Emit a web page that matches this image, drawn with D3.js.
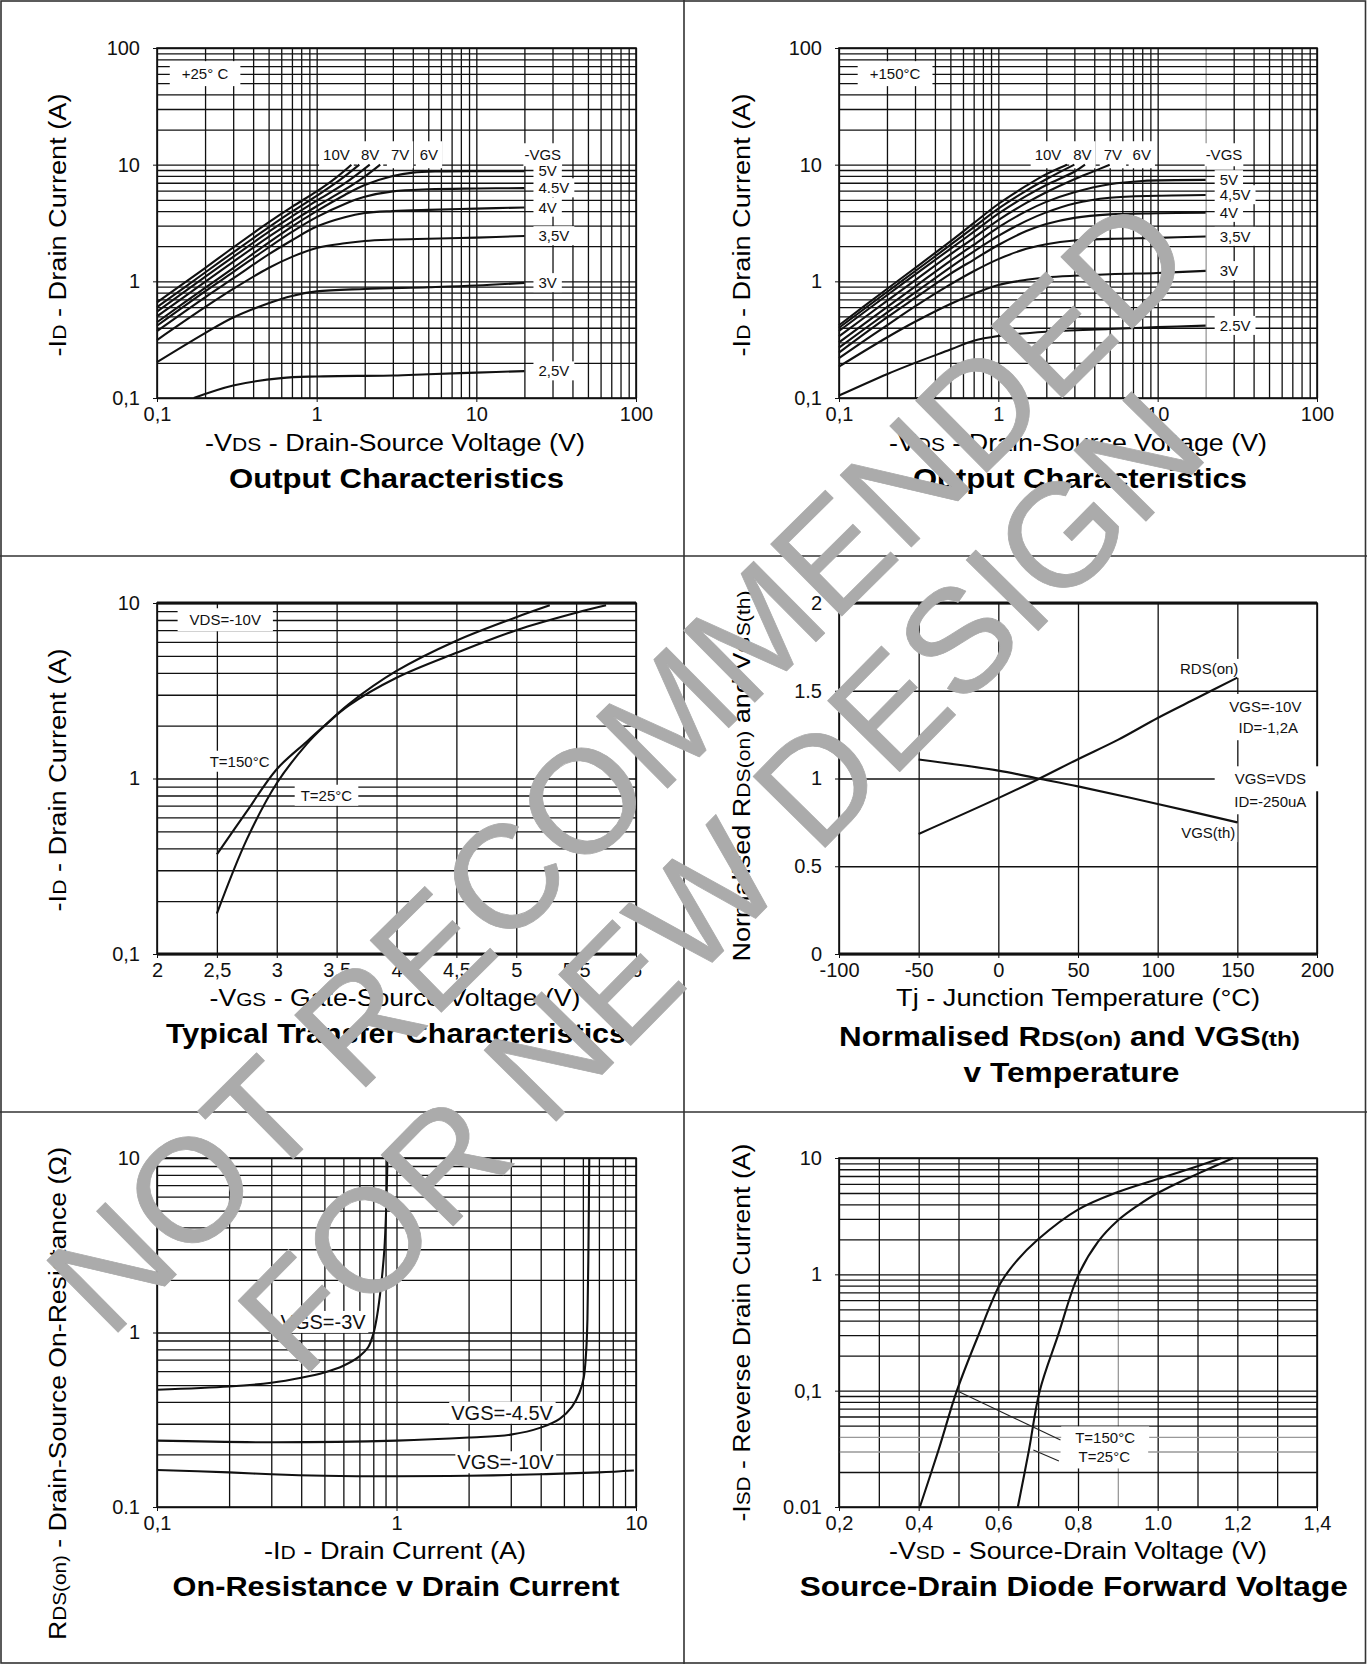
<!DOCTYPE html>
<html>
<head>
<meta charset="utf-8">
<script src="https://cdn.jsdelivr.net/npm/d3@7"></script>
<style>
  body { margin: 0; background: #fff; }
  text { font-family: "Liberation Sans", Arial, sans-serif; fill: #111; }
</style>
</head>
<body>
<script>
// ---------- data ----------

// output characteristics, [-VDS (V), -ID (A)], one array per -VGS
const outVgs = ["10V", "8V", "7V", "6V", "5V", "4.5V", "4V", "3.5V", "3V", "2.5V"];
const out25 = [
  [[0.1,0.66],[0.2,1.3],[0.3,1.95],[0.5,3.2],[0.7,4.35],[1,5.9],[1.3,7.6],[1.65,10]],
  [[0.1,0.6],[0.2,1.19],[0.3,1.77],[0.5,2.9],[0.7,3.95],[1,5.4],[1.4,7.4],[1.85,10]],
  [[0.1,0.55],[0.2,1.09],[0.3,1.62],[0.5,2.65],[0.7,3.6],[1,4.9],[1.5,6.9],[2.15,10]],
  [[0.1,0.5],[0.2,0.99],[0.3,1.47],[0.5,2.4],[0.7,3.25],[1,4.4],[1.5,6.1],[2,7.9],[2.5,10]],
  [[0.1,0.446],[0.2,0.88],[0.3,1.3],[0.5,2.15],[0.7,2.95],[1,4.0],[1.5,5.5],[2,6.7],[3,8.0],[4,8.55],[6,8.75],[10,8.8],[20,8.8]],
  [[0.1,0.416],[0.2,0.82],[0.3,1.2],[0.5,1.95],[0.7,2.65],[1,3.55],[1.5,4.6],[2,5.3],[3,5.9],[5,6.15],[10,6.25],[20,6.3]],
  [[0.1,0.375],[0.2,0.73],[0.3,1.06],[0.5,1.7],[0.7,2.25],[1,2.95],[1.5,3.55],[2,3.85],[3,4.0],[5,4.1],[10,4.2],[20,4.3]],
  [[0.1,0.314],[0.2,0.6],[0.3,0.86],[0.5,1.3],[0.7,1.62],[1,1.93],[1.5,2.12],[2,2.22],[3,2.28],[5,2.32],[10,2.37],[20,2.45]],
  [[0.1,0.203],[0.2,0.36],[0.3,0.49],[0.5,0.65],[0.7,0.75],[1,0.82],[2,0.86],[5,0.89],[10,0.92],[20,0.97]],
  [[0.17,0.1],[0.3,0.128],[0.6,0.148],[1,0.153],[3,0.156],[5,0.16],[10,0.165],[20,0.17]]
];
const out150 = [
  [[0.1,0.42],[0.2,0.86],[0.3,1.3],[0.5,2.2],[0.7,3.15],[1,4.6],[1.5,6.6],[2,8.3],[2.7,10]],
  [[0.1,0.4],[0.2,0.81],[0.3,1.22],[0.5,2.05],[0.7,2.9],[1,4.2],[1.5,6.0],[2,7.5],[3.0,10]],
  [[0.1,0.375],[0.2,0.76],[0.3,1.14],[0.5,1.9],[0.7,2.65],[1,3.8],[1.5,5.4],[2,6.7],[3,8.7],[3.5,10]],
  [[0.1,0.337],[0.2,0.68],[0.3,1.02],[0.5,1.7],[0.7,2.35],[1,3.35],[1.5,4.7],[2,5.8],[3,7.5],[4,8.8],[5,10]],
  [[0.1,0.3],[0.2,0.6],[0.3,0.9],[0.5,1.5],[0.7,2.05],[1,2.9],[1.5,4.0],[2,4.8],[3,5.8],[5,6.8],[8,7.25],[20,7.4]],
  [[0.1,0.27],[0.2,0.54],[0.3,0.8],[0.5,1.32],[0.7,1.8],[1,2.45],[1.5,3.3],[2,3.9],[3,4.65],[5,5.2],[10,5.42],[20,5.5]],
  [[0.1,0.245],[0.2,0.49],[0.3,0.72],[0.5,1.16],[0.7,1.53],[1,2.05],[1.5,2.7],[2,3.1],[3,3.5],[5,3.75],[10,3.83],[20,3.88]],
  [[0.1,0.22],[0.2,0.42],[0.3,0.61],[0.5,0.94],[0.7,1.22],[1,1.55],[1.5,1.9],[2,2.08],[3,2.24],[5,2.31],[10,2.36],[20,2.42]],
  [[0.1,0.186],[0.2,0.33],[0.3,0.45],[0.5,0.64],[0.7,0.78],[1,0.93],[1.5,1.03],[2,1.08],[5,1.15],[10,1.18],[20,1.23]],
  [[0.1,0.105],[0.2,0.16],[0.3,0.2],[0.5,0.26],[0.7,0.31],[1,0.34],[2,0.37],[5,0.39],[10,0.405],[20,0.417]]
];
const out25Right = ["5V", "4.5V", "4V", "3,5V", "3V", "2,5V"];
const out150Right = ["5V", "4,5V", "4V", "3,5V", "3V", "2.5V"];
const outTop = ["10V", "8V", "7V", "6V"];
const outTicks = [0.1, 1, 10, 100];
const outXLabels = ["0,1", "1", "10", "100"];
const outYLabels = ["0,1", "1", "10", "100"];

// typical transfer characteristics, [-VGS (V), -ID (A)]
const transfer150 = [[2.5,0.37],[2.75,0.65],[3,1.13],[3.25,1.62],[3.4,2.0],[3.6,2.6],[4,3.75],[4.5,5.2],[5,7.0],[5.5,8.8],[5.75,9.7]];
const transfer25 = [[2.5,0.17],[2.75,0.45],[3,0.94],[3.25,1.57],[3.4,2.0],[3.6,2.65],[4,4.1],[4.5,6.1],[5,8.3],[5.28,9.7]];
const transferX = [2, 2.5, 3, 3.5, 4, 4.5, 5, 5.5, 6];
const transferXLabels = ["2", "2,5", "3", "3,5", "4", "4,5", "5", "5,5", "6"];
const transferY = [0.1, 1, 10];
const transferYLabels = ["0,1", "1", "10"];

// normalised RDS(on) and VGS(th), [Tj (°C), ratio]
const tempRds = [[-50,0.684],[0,0.888],[25,0.996],[50,1.11],[75,1.22],[100,1.345],[125,1.46],[150,1.575]];
const tempVth = [[-50,1.108],[0,1.045],[25,1.0],[50,0.955],[100,0.855],[150,0.75]];
const tempX = [-100, -50, 0, 50, 100, 150, 200];
const tempY = [0, 0.5, 1, 1.5, 2];
const tempYLabels = ["0", "0.5", "1", "1.5", "2"];

// on-resistance, [-ID (A), RDS(on) (ohm)]
const ron3 = [[0.1,0.47],[0.2,0.49],[0.3,0.515],[0.4,0.55],[0.5,0.59],[0.6,0.645],[0.7,0.73],[0.76,0.82],[0.8,0.98],[0.83,1.25],[0.86,1.8],[0.89,3.0],[0.905,5],[0.917,10]];
const ron45 = [[0.1,0.24],[0.3,0.235],[1,0.24],[2,0.25],[3,0.26],[4,0.285],[4.8,0.32],[5.4,0.375],[5.8,0.45],[6.05,0.55],[6.2,0.8],[6.27,1.2],[6.33,3],[6.38,10]];
const ron10 = [[0.1,0.163],[0.2,0.158],[0.3,0.154],[0.5,0.151],[1,0.15],[2,0.151],[4,0.154],[7,0.158],[9.8,0.162]];
const ronX = [0.1, 1, 10];
const ronXLabels = ["0,1", "1", "10"];
const ronYLabels = ["0.1", "1", "10"];

// source-drain diode, [-VSD (V), -ISD (A)]
const diode150 = [[0.403,0.01],[0.45,0.031],[0.496,0.1],[0.55,0.3],[0.606,0.845],[0.644,1.28],[0.7,2.0],[0.8,3.6],[0.9,5.1],[1.0,6.6],[1.1,8.5],[1.16,10]];
const diode25 = [[0.649,0.01],[0.677,0.031],[0.704,0.1],[0.75,0.3],[0.8,0.97],[0.85,1.9],[0.9,2.9],[0.95,3.9],[1.0,5.0],[1.1,7.3],[1.19,10]];
const diodeX = [0.2, 0.4, 0.6, 0.8, 1.0, 1.2, 1.4];
const diodeXLabels = ["0,2", "0,4", "0,6", "0,8", "1.0", "1,2", "1,4"];
const diodeY = [0.01, 0.1, 1, 10];
const diodeYLabels = ["0.01", "0,1", "1", "10"];

// ---------- drawing ----------
const W = 1367, H = 1664;
const svg = d3.select("body").append("svg").attr("width", W).attr("height", H);

const COL = [[157, 636], [839, 1317]];
const ROW = [[48, 398], [603, 954], [1158, 1507]];

const line = (x, y) => d3.line()
  .x(d => x(d[0])).y(d => y(d[1]))
  .curve(d3.curveCatmullRom.alpha(0.5));

// white-backed label
function tag(g, px, py, str, o = {}) {
  const t = g.append("text")
    .attr("x", px).attr("y", py).attr("dy", "0.35em")
    .attr("text-anchor", o.anchor || "start")
    .style("font-size", (o.size || 15) + "px")
    .text(str);
  const b = t.node().getBBox();
  const px2 = o.padX == null ? 4 : o.padX, py2 = o.padY == null ? 2 : o.padY;
  g.insert("rect", () => t.node())
    .attr("x", b.x - px2).attr("y", b.y - py2)
    .attr("width", b.width + 2 * px2).attr("height", b.height + 2 * py2)
    .attr("fill", "#fff");
  return t;
}

// text with smaller subscript parts, stretched to a given length
function rich(parts, o) {
  const t = svg.append("text")
    .attr("text-anchor", "middle")
    .attr("transform", `translate(${o.x},${o.y})` + (o.rotate ? " rotate(-90)" : ""))
    .style("font-size", o.size + "px")
    .style("font-weight", o.bold ? "bold" : "normal")
    .style("fill", "#000")
    .attr("textLength", o.len)
    .attr("lengthAdjust", "spacingAndGlyphs");
  parts.forEach(p => {
    const s = t.append("tspan").text(p[0]);
    if (p[1]) s.style("font-size", "0.78em");
  });
}

function panel(p) {
  const g = svg.append("g");
  const [left, right] = COL[p.col], [top, bottom] = ROW[p.row];
  const x = (p.xLog ? d3.scaleLog() : d3.scaleLinear()).domain(p.xDomain).range([left, right]);
  const y = (p.yLog ? d3.scaleLog() : d3.scaleLinear()).domain(p.yDomain).range([bottom, top]);
  const gx = p.xLog ? x.ticks() : d3.range(p.xDomain[0], p.xDomain[1] + 1e-9, p.xStep);
  const gy = p.yLog ? y.ticks() : d3.range(p.yDomain[0], p.yDomain[1] + 1e-9, p.yStep);
  const faded = (list, d) => (list || []).some(v => Math.abs(v - d) < 1e-9);

  // grid
  g.append("g").attr("transform", `translate(0,${bottom})`)
    .call(d3.axisBottom(x).tickValues(gx).tickSize(-(bottom - top)).tickFormat(""))
    .call(a => a.select(".domain").remove())
    .selectAll("line").attr("stroke", d => faded(p.fadeX, d) ? "#999" : "#111").attr("stroke-width", 1.3);
  g.append("g").attr("transform", `translate(${left},0)`)
    .call(d3.axisLeft(y).tickValues(gy).tickSize(-(right - left)).tickFormat(""))
    .call(a => a.select(".domain").remove())
    .selectAll("line").attr("stroke", d => faded(p.fadeY, d) ? "#999" : "#111").attr("stroke-width", 1.3);

  // tick labels
  g.append("g").attr("transform", `translate(0,${bottom})`)
    .call(d3.axisBottom(x).tickValues(p.xTicks).tickFormat((d, i) => p.xLabels[i]).tickSize(4).tickPadding(5))
    .call(a => a.select(".domain").remove())
    .call(a => a.selectAll("line").attr("stroke", "#111"))
    .call(a => a.selectAll("text").style("font-size", "20px").attr("fill", "#111"));
  g.append("g").attr("transform", `translate(${left},0)`)
    .call(d3.axisLeft(y).tickValues(p.yTicks).tickFormat((d, i) => p.yLabels[i]).tickSize(4).tickPadding(13))
    .call(a => a.select(".domain").remove())
    .call(a => a.selectAll("line").attr("stroke", "#111"))
    .call(a => a.selectAll("text").style("font-size", "20px").attr("fill", "#111"));

  // frame
  g.append("rect").attr("x", left).attr("y", top)
    .attr("width", right - left).attr("height", bottom - top)
    .attr("fill", "none").attr("stroke", "#111").attr("stroke-width", 1.6);
  if (p.thick) {
    [top, bottom].forEach(yy => g.append("line")
      .attr("x1", left).attr("x2", right).attr("y1", yy).attr("y2", yy)
      .attr("stroke", "#111").attr("stroke-width", 3.2));
  }

  const lab = g.append("g");
  if (p.labels) p.labels(lab, x, y);

  const ln = line(x, y);
  g.append("g").selectAll("path").data(p.series).join("path")
    .attr("d", ln).attr("fill", "none").attr("stroke", "#111")
    .attr("stroke-width", 2.1).attr("stroke-linejoin", "round");

  if (p.after) p.after(g, x, y);
  return { x, y };
}

// output characteristics labels
function outLabels(series, rightLabels, temp) {
  return (g, x, y) => {
    tag(g, x(0.1) + (temp === "+25° C" ? 48 : 56), y(60), temp, { anchor: "middle", padX: 12, padY: 4 });
    outTop.forEach((s, i) => {
      const xv = temp === "+25° C" ? [1.33, 2.16, 3.33, 5.05][i] : [2.05, 3.37, 5.24, 7.95][i];
      tag(g, x(xv), y(12.1), s, { anchor: "middle", padX: 4, padY: 5 });
    });
    tag(g, x(20), y(12.1), "-VGS", { padX: 1, padY: 3 });
    rightLabels.forEach((s, i) => {
      const pts = series[i + 4];
      tag(g, x(24.5), y(pts[pts.length - 1][1]), s, { padX: 5, padY: 1 });
    });
  };
}

panel({
  col: 0, row: 0, xLog: true, yLog: true, xDomain: [0.1, 100], yDomain: [0.1, 100],
  xTicks: outTicks, xLabels: outXLabels, yTicks: outTicks, yLabels: outYLabels,
  series: out25, labels: outLabels(out25, out25Right, "+25° C")
});
panel({
  col: 1, row: 0, xLog: true, yLog: true, xDomain: [0.1, 100], yDomain: [0.1, 100],
  xTicks: outTicks, xLabels: outXLabels, yTicks: outTicks, yLabels: outYLabels,
  fadeX: [20],
  series: out150, labels: outLabels(out150, out150Right, "+150°C")
});

panel({
  col: 0, row: 1, xLog: false, yLog: true, xDomain: [2, 6], xStep: 0.5, yDomain: [0.1, 10],
  xTicks: transferX, xLabels: transferXLabels, yTicks: transferY, yLabels: transferYLabels,
  thick: true, series: [transfer150, transfer25],
  labels: (g, x, y) => {
    tag(g, x(2.57), y(8), "VDS=-10V", { anchor: "middle", padX: 12, padY: 3 });
    tag(g, x(2.44), y(1.25), "T=150°C", { padX: 4, padY: 2 });
    tag(g, x(3.2), y(0.8), "T=25°C", { padX: 6, padY: 2 });
  }
});

panel({
  col: 1, row: 1, xLog: false, yLog: false, xDomain: [-100, 200], xStep: 50, yDomain: [0, 2], yStep: 0.5,
  xTicks: tempX, xLabels: tempX.map(String), yTicks: tempY, yLabels: tempYLabels,
  thick: true, series: [tempRds, tempVth],
  labels: (g, x, y) => {
    tag(g, x(150) + 1, y(1.626), "RDS(on)", { anchor: "end", padX: 2, padY: 1 });
    tag(g, x(150) + 28, y(1.409), "VGS=-10V", { anchor: "middle", padX: 10, padY: 4 });
    tag(g, x(150) + 31, y(1.288), "ID=-1,2A", { anchor: "middle", padX: 8, padY: 4 });
    tag(g, x(150) + 33, y(0.997), "VGS=VDS", { anchor: "middle", padX: 20, padY: 4 });
    tag(g, x(150) + 33, y(0.866), "ID=-250uA", { anchor: "middle", padX: 5, padY: 4 });
    tag(g, x(150) - 2, y(0.69), "VGS(th)", { anchor: "end", padX: 2, padY: 1 });
  }
});

panel({
  col: 0, row: 2, xLog: true, yLog: true, xDomain: [0.1, 10], yDomain: [0.1, 10],
  xTicks: ronX, xLabels: ronXLabels, yTicks: ronX, yLabels: ronYLabels,
  series: [ron3, ron45, ron10],
  labels: (g, x, y) => {
    tag(g, x(0.494), y(1.15), "VGS=-3V", { anchor: "middle", size: 20, padX: 2, padY: 0 });
    tag(g, x(2.76), y(0.347), "VGS=-4.5V", { anchor: "middle", size: 20, padX: 2, padY: 0 });
    tag(g, x(2.85), y(0.152) - 13, "VGS=-10V", { anchor: "middle", size: 20, padX: 2, padY: 0 });
  }
});

panel({
  col: 1, row: 2, xLog: false, yLog: true, xDomain: [0.2, 1.4], xStep: 0.1, yDomain: [0.01, 10],
  xTicks: diodeX, xLabels: diodeXLabels, yTicks: diodeY, yLabels: diodeYLabels,
  fadeX: [0.9], fadeY: [0.03, 0.04],
  series: [diode150, diode25],
  labels: (g, x, y) => {
    tag(g, x(0.868), y(0.039), "T=150°C", { anchor: "middle", padX: 14, padY: 3 });
    tag(g, x(0.866), y(0.0268), "T=25°C", { anchor: "middle", padX: 18, padY: 3 });
  },
  after: (g, x, y) => {
    const lead = [[[0.496, 0.1], [0.756, 0.0376]], [[0.688, 0.0309], [0.752, 0.0248]]];
    g.selectAll("line.lead").data(lead).join("line")
      .attr("x1", d => x(d[0][0])).attr("y1", d => y(d[0][1]))
      .attr("x2", d => x(d[1][0])).attr("y2", d => y(d[1][1]))
      .attr("stroke", "#222").attr("stroke-width", 1.1);
  }
});

// ---------- axis titles and chart titles ----------
const AX = 23, TT = 27;
rich([["-I"], ["D", 1], [" - Drain Current (A)"]], { x: 65.5, y: 225, len: 263, size: AX, rotate: true });
rich([["-I"], ["D", 1], [" - Drain Current (A)"]], { x: 749.5, y: 225, len: 263, size: AX, rotate: true });
rich([["-V"], ["DS", 1], [" - Drain-Source Voltage (V)"]], { x: 395, y: 451, len: 380, size: AX });
rich([["-V"], ["DS", 1], [" - Drain-Source Voltage (V)"]], { x: 1078, y: 451, len: 378, size: AX });
rich([["Output Characteristics"]], { x: 396.5, y: 487.5, len: 335, size: TT, bold: true });
rich([["Output Characteristics"]], { x: 1080, y: 487.5, len: 334, size: TT, bold: true });

rich([["-I"], ["D", 1], [" - Drain Current (A)"]], { x: 65.5, y: 780, len: 263, size: AX, rotate: true });
rich([["-V"], ["GS", 1], [" - Gate-Source Voltage (V)"]], { x: 395, y: 1005.7, len: 371, size: AX });
rich([["Typical Transfer Characteristics"]], { x: 396, y: 1042.5, len: 460, size: TT, bold: true });

rich([["Normalised R"], ["DS(on)", 1], [" and V"], ["GS(th)", 1]], { x: 749.5, y: 776, len: 371, size: AX, rotate: true });
rich([["T"], ["j"], [" - Junction Temperature (°C)"]], { x: 1078, y: 1005.7, len: 364, size: AX });
rich([["Normalised R"], ["DS(on)", 1], [" and VGS"], ["(th)", 1]], { x: 1069.5, y: 1046, len: 461, size: TT, bold: true });
rich([["v Temperature"]], { x: 1071.5, y: 1082, len: 216, size: TT, bold: true });

rich([["R"], ["DS(on)", 1], [" - Drain-Source On-Resistance (Ω)"]], { x: 65.5, y: 1393.5, len: 493, size: AX, rotate: true });
rich([["-I"], ["D", 1], [" - Drain Current (A)"]], { x: 395, y: 1558.8, len: 262, size: AX });
rich([["On-Resistance v Drain Current"]], { x: 396, y: 1596, len: 447, size: TT, bold: true });

rich([["-I"], ["SD", 1], [" - Reverse Drain Current (A)"]], { x: 749.5, y: 1332.6, len: 378, size: AX, rotate: true });
rich([["-V"], ["SD", 1], [" - Source-Drain Voltage (V)"]], { x: 1078, y: 1558.8, len: 378, size: AX });
rich([["Source-Drain Diode Forward Voltage"]], { x: 1073.7, y: 1596, len: 548, size: TT, bold: true });

// ---------- page frame ----------
const frame = svg.append("g").attr("stroke", "#333").attr("stroke-width", 1.6).attr("fill", "none");
frame.append("rect").attr("x", 1).attr("y", 1).attr("width", W - 2.5).attr("height", H - 2);
frame.append("line").attr("x1", 684).attr("x2", 684).attr("y1", 0).attr("y2", H);
[556, 1112].forEach(yy => frame.append("line").attr("x1", 0).attr("x2", W).attr("y1", yy).attr("y2", yy));

// ---------- watermark ----------
const wm = svg.append("g")
  .style("font-family", "'Liberation Sans', Arial, sans-serif")
  .style("font-size", "147px");
[["NOT RECOMMENDED", 617, 764, -44.7], ["FOR NEW DESIGN", 719, 880, -45.5]].forEach(([s, cx, cy, a]) => {
  wm.append("text")
    .attr("transform", `translate(${cx},${cy}) rotate(${a})`)
    .attr("text-anchor", "middle").attr("dy", "0.36em")
    .style("fill", "#ababab").style("stroke", "#ababab")
    .style("stroke-width", "0.8px").style("stroke-linejoin", "round")
    .text(s);
});
</script>
</body>
</html>
